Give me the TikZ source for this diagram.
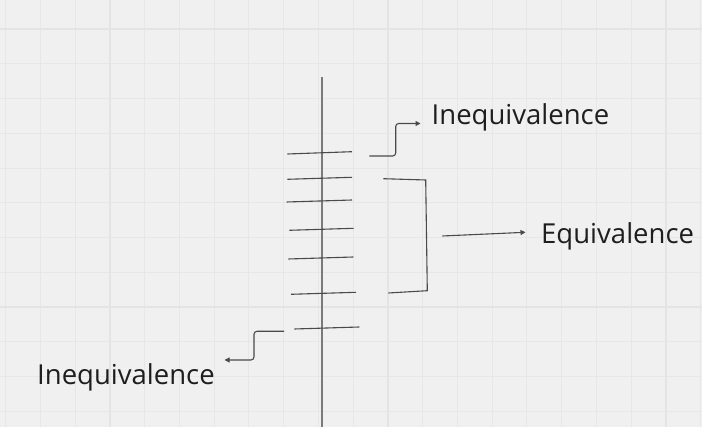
\documentclass[tikz,border=0pt]{standalone}
\usepackage{fontspec}
\setmainfont{Open Sans}
\usetikzlibrary{arrows.meta}
\definecolor{bgc}{HTML}{F0F0F0}
\definecolor{minorc}{HTML}{E7E7E7}
\definecolor{majorc}{HTML}{E4E4E4}
\definecolor{inkc}{HTML}{4A4A4A}
\definecolor{axisc}{HTML}{7A7A7A}
\definecolor{txtc}{HTML}{1E1E1E}
\tikzset{
  ink/.style={draw=inkc,line width=1.1pt},
  axisline/.style={draw=axisc,line width=1.2pt},
  arr/.style={ink,-{Triangle[length=5pt,width=5pt]}},
  lbl/.style={inner sep=0pt,anchor=base west,text=txtc,font=\fontsize{27.5}{32}\selectfont},
}
\begin{document}
\begin{tikzpicture}[x=1pt,y=-1pt]
\useasboundingbox (0,0) rectangle (702,427);
\fill[bgc] (0,0) rectangle (702,427);
% grid
\foreach \i in {0,...,20} {
  \draw[minorc,line width=0.9pt] ({5.5+34.75*\i},0) -- ({5.5+34.75*\i},427);
}
\foreach \j in {-1,...,12} {
  \draw[minorc,line width=0.9pt] (0,{29+34.75*\j}) -- (702,{29+34.75*\j});
}
\foreach \i in {110,388,666} \draw[majorc,line width=1.6pt] (\i,0) -- (\i,427);
\foreach \j in {29,307} \draw[majorc,line width=1.6pt] (0,\j) -- (702,\j);
% axis
\coordinate (axT) at (322,77);
\coordinate (axB) at (322,427);
\draw[axisline] (axT) -- (axB);
% ticks
\coordinate (t1a) at (287.3,154); \coordinate (t1b) at (352,151.7);
\coordinate (t2a) at (287.3,179.3); \coordinate (t2b) at (352,177.3);
\coordinate (t3a) at (286.7,202); \coordinate (t3b) at (352,200);
\coordinate (t4a) at (289.3,230.3); \coordinate (t4b) at (353.7,228.3);
\coordinate (t5a) at (288.3,259); \coordinate (t5b) at (353.3,257);
\coordinate (t6a) at (291,294.3); \coordinate (t6b) at (356,292.3);
\coordinate (t7a) at (294.3,329); \coordinate (t7b) at (359.3,327);
\foreach \k in {1,...,7} \draw[ink] (t\k a) -- (t\k b);
% labels
\node[lbl] (ineqTop) at (431.5,124.3) {Inequivalence};
\node[lbl] (equiv) at (541,243.3) {Equivalence};
\node[lbl] (ineqBot) at (37,385) {Inequivalence};
% upper elbow arrow
\coordinate (u0) at (369.3,156);
\coordinate (u1) at (420.5,123.5);
\draw[arr,rounded corners=3pt] (u0) -- (395.7,156) -- (395.7,123.5) -- (u1);
% bracket
\coordinate (b0) at (383.3,178.7);
\coordinate (b1) at (425.7,180);
\coordinate (b2) at (427.3,290.7);
\coordinate (b3) at (388.3,293);
\draw[ink] (b0) -- (b1) -- (b2) -- (b3);
% middle arrow
\coordinate (m0) at (442.3,236);
\coordinate (m1) at (525.5,232.3);
\draw[arr] (m0) -- (m1);
% lower elbow arrow
\coordinate (l0) at (284,331.3);
\coordinate (l1) at (224.5,360);
\draw[arr,rounded corners=3pt] (l0) -- (254,331.3) -- (254,360) -- (l1);
\end{tikzpicture}
\end{document}
